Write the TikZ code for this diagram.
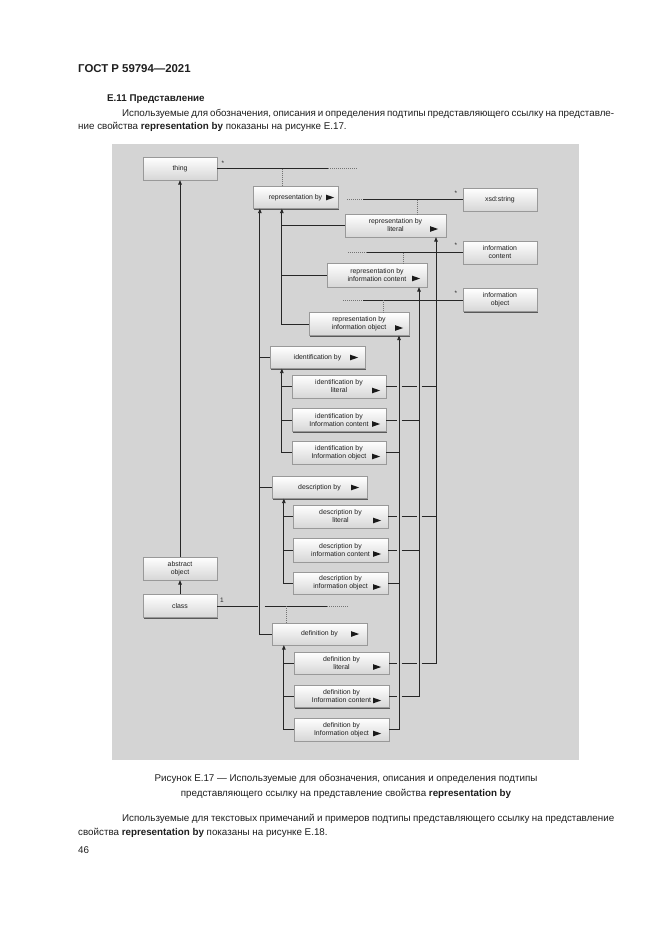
\documentclass[tikz,border=0pt]{standalone}
\usepackage{fontspec}
\setmainfont{Liberation Sans}
\usetikzlibrary{shadows,arrows.meta,calc}
\definecolor{bggray}{RGB}{212,212,212}
\newcommand\jline[2]{\hbox to #1{\spaceskip=0.278em plus 1em minus 0.12em\relax #2}}
\newcommand\tri[1]{\fill[black!90] (#1) ++(0,-2.8) -- ++(8,2.8) -- ++(-8,2.8) -- cycle;}
\newcommand\hthree[1]{\draw[ln] (#1.east) -- (396.5,0 |- #1.east) (401.5,0 |- #1.east) -- (416.5,0 |- #1.east) (421.5,0 |- #1.east) -- (436,0 |- #1.east);}
\newcommand\htwo[1]{\draw[ln] (#1.east) -- (396.5,0 |- #1.east) (401.5,0 |- #1.east) -- (419,0 |- #1.east);}
\begin{document}
\begin{tikzpicture}[x=1pt,y=-1pt,
  txt/.style={inner sep=0pt, text=black!88, font=\fontsize{9.8}{12}\selectfont},
  cls/.style={draw=black!40, line width=0.3pt, top color=white, bottom color=black!16,
     drop shadow={shadow xshift=1.3pt,shadow yshift=-1.3pt,fill=black!65,opacity=1},
     inner sep=0pt, font=\fontsize{6.9}{8}\selectfont, text=black!88, align=center,
     minimum height=23pt},
  mult/.style={inner sep=0pt, text=black!85, font=\fontsize{6.5}{7}\selectfont},
  ln/.style={draw=black!85, line width=0.85pt},
  dl/.style={draw=black!55, line width=0.6pt, dash pattern=on 1pt off 1pt},
  arr/.style={ln, -{Triangle[length=4.5pt,width=3.6pt]}}
]
\useasboundingbox (0,0) rectangle (661,935);
\fill[white] (0,0) rectangle (661,935);

% page text
\node[txt, font=\fontsize{11.4}{13}\selectfont\bfseries, anchor=base west] (hdr) at (78,72.5) {ГОСТ Р 59794—2021};
\node[txt, font=\fontsize{9.8}{12}\selectfont\bfseries, anchor=base west] (sec) at (107,101.5) {Е.11 Представление};
\node[txt, anchor=base west] (p1a) at (122,116.5) {\jline{492pt}{Используемые для обозначения, описания и определения подтипы представляющего ссылку на представле-}};
\node[txt, anchor=base west] (p1b) at (78,129.5) {ние свойства \textbf{representation by} показаны на рисунке Е.17.};
\node[txt, anchor=base] (cap1) at (346,781.5) {Рисунок Е.17 — Используемые для обозначения, описания и определения подтипы};
\node[txt, anchor=base] (cap2) at (346,796.5) {представляющего ссылку на представление свойства \textbf{representation by}};
\node[txt, anchor=base west] (p2a) at (122,821.5) {\jline{492pt}{Используемые для текстовых примечаний и примеров подтипы представляющего ссылку на представление}};
\node[txt, anchor=base west] (p2b) at (78,835.5) {свойства \textbf{representation by} показаны на рисунке Е.18.};
\node[txt, anchor=base west] (pg) at (78,853.5) {46};

% diagram background
\fill[bggray] (112,144) rectangle (579,760);

% boxes
\node[cls, minimum width=74pt] (thing) at (180,168.5) {thing};
\node[cls, minimum width=74pt] (abstr) at (180,568.5) {abstract\\object};
\node[cls, minimum width=74pt] (class) at (180,606) {class};
\node[cls, minimum width=85pt, minimum height=22pt] (repby) at (295.5,197.5) {representation by};
\node[cls, minimum width=74pt] (xsd) at (500,199.5) {xsd:string};
\node[cls, minimum width=74pt] (ic) at (500,252.5) {information\\content};
\node[cls, minimum width=74pt] (io) at (500,300) {information\\object};
\node[cls, minimum width=101pt] (replit) at (395.5,225.5) {representation by\\literal};
\node[cls, minimum width=100pt, minimum height=24pt] (repic) at (377,275) {representation by\\information content};
\node[cls, minimum width=100pt] (repio) at (359,324) {representation by\\information object};
\node[cls, minimum width=95pt, minimum height=22pt] (idby) at (317.5,357.5) {identification by};
\node[cls, minimum width=94pt] (idlit) at (339,386.5) {identification by\\literal};
\node[cls, minimum width=94pt] (idic) at (339,420) {identification by\\Information content};
\node[cls, minimum width=94pt] (idio) at (339,452.5) {identification by\\Information object};
\node[cls, minimum width=95pt, minimum height=22pt] (dsby) at (319.5,487.5) {description by};
\node[cls, minimum width=95pt] (dslit) at (340.5,516.5) {description by\\literal};
\node[cls, minimum width=95pt, minimum height=24pt] (dsic) at (340.5,550) {description by\\information content};
\node[cls, minimum width=95pt, minimum height=22pt] (dsio) at (340.5,583) {description by\\information object};
\node[cls, minimum width=95pt, minimum height=22pt] (dfby) at (319.5,634) {definition by};
\node[cls, minimum width=95pt, minimum height=22pt] (dflit) at (341.5,663) {definition by\\literal};
\node[cls, minimum width=95pt, minimum height=22pt] (dfic) at (341.5,696.5) {definition by\\Information content};
\node[cls, minimum width=95pt] (dfio) at (341.5,729.5) {definition by\\Information object};

% triangles
\tri{$(repby.east)+(-12,0)$}
\tri{$(replit.east)+(-16,3.5)$}
\tri{$(repic.east)+(-15,3.5)$}
\tri{$(repio.east)+(-14,4)$}
\tri{$(idby.east)+(-15,0)$}
\tri{$(idlit.east)+(-14,4)$}
\tri{$(idic.east)+(-14,4)$}
\tri{$(idio.east)+(-14,4)$}
\tri{$(dsby.east)+(-16,0)$}
\tri{$(dslit.east)+(-15,4)$}
\tri{$(dsic.east)+(-15,4)$}
\tri{$(dsio.east)+(-15,4)$}
\tri{$(dfby.east)+(-16,0)$}
\tri{$(dflit.east)+(-16,4)$}
\tri{$(dfic.east)+(-16,4)$}
\tri{$(dfio.east)+(-16,4)$}

% generalisation
\draw[arr] (abstr.north) -- (thing.south);
\draw[arr] (class.north) -- (abstr.south);

% thing association
\draw[ln] (thing.east) -- (328,0 |- thing.east);
\draw[dl] (328,0 |- thing.east) -- (358,0 |- thing.east);
\draw[dl] (282,0 |- thing.east) -- (282,0 |- repby.north);
\node[mult] (m0) at (223,163) {*};

% xsd:string
\draw[dl] (347,0 |- xsd.west) -- (363,0 |- xsd.west);
\draw[ln] (363,0 |- xsd.west) -- (xsd.west);
\draw[dl] (417,0 |- xsd.west) -- (417,0 |- replit.north);
\node[mult] (m1) at (456,193) {*};
% information content
\draw[dl] (348,0 |- ic.west) -- (367,0 |- ic.west);
\draw[ln] (367,0 |- ic.west) -- (ic.west);
\draw[dl] (403,0 |- ic.west) -- (403,0 |- repic.north);
\node[mult] (m2) at (456,245) {*};
% information object
\draw[dl] (343,0 |- io.west) -- (363,0 |- io.west);
\draw[ln] (363,0 |- io.west) -- (io.west);
\draw[dl] (383,0 |- io.west) -- (383,0 |- repio.north);
\node[mult] (m3) at (456,293) {*};

% class association
\draw[ln] (class.east) -- (257.5,0 |- class.east);
\draw[ln] (264.5,0 |- class.east) -- (327,0 |- class.east);
\draw[dl] (327,0 |- class.east) -- (348,0 |- class.east);
\draw[dl] (286,0 |- class.east) -- (286,0 |- dfby.north);
\node[mult] (m4) at (222,600) {1};

% representation by subtypes
\draw[arr] (dfby.west) -| ($(repby.south west)+(7,0)$);
\draw[ln] (260,0 |- idby.west) -- (idby.west);
\draw[ln] (260,0 |- dsby.west) -- (dsby.west);
\draw[arr] (repio.west) -| ($(repby.south west)+(29,0)$);
\draw[ln] (282,0 |- replit.west) -- (replit.west);
\draw[ln] (282,0 |- repic.west) -- (repic.west);

% identification by
\draw[arr] (idio.west) -| ($(idby.south west)+(12,0)$);
\draw[ln] (282,0 |- idlit.west) -- (idlit.west);
\draw[ln] (282,0 |- idic.west) -- (idic.west);
% description by
\draw[arr] (dsio.west) -| ($(dsby.south west)+(12,0)$);
\draw[ln] (284,0 |- dslit.west) -- (dslit.west);
\draw[ln] (284,0 |- dsic.west) -- (dsic.west);
% definition by
\draw[arr] (dfio.west) -| ($(dfby.south west)+(12,0)$);
\draw[ln] (284,0 |- dflit.west) -- (dflit.west);
\draw[ln] (284,0 |- dfic.west) -- (dfic.west);

% literal / information content / information object
\draw[arr] (421.5,0 |- dflit.east) -| (436,0 |- replit.south);
\draw[ln] (dflit.east) -- (396.5,0 |- dflit.east) (401.5,0 |- dflit.east) -- (416.5,0 |- dflit.east);
\hthree{idlit}
\hthree{dslit}
\draw[arr] (401.5,0 |- dfic.east) -| (419,0 |- repic.south);
\draw[ln] (dfic.east) -- (396.5,0 |- dfic.east);
\htwo{idic}
\htwo{dsic}
\draw[arr] (dfio.east) -| (399,0 |- repio.south);
\draw[ln] (idio.east) -- (399,0 |- idio.east);
\draw[ln] (dsio.east) -- (399,0 |- dsio.east);
\end{tikzpicture}
\end{document}
